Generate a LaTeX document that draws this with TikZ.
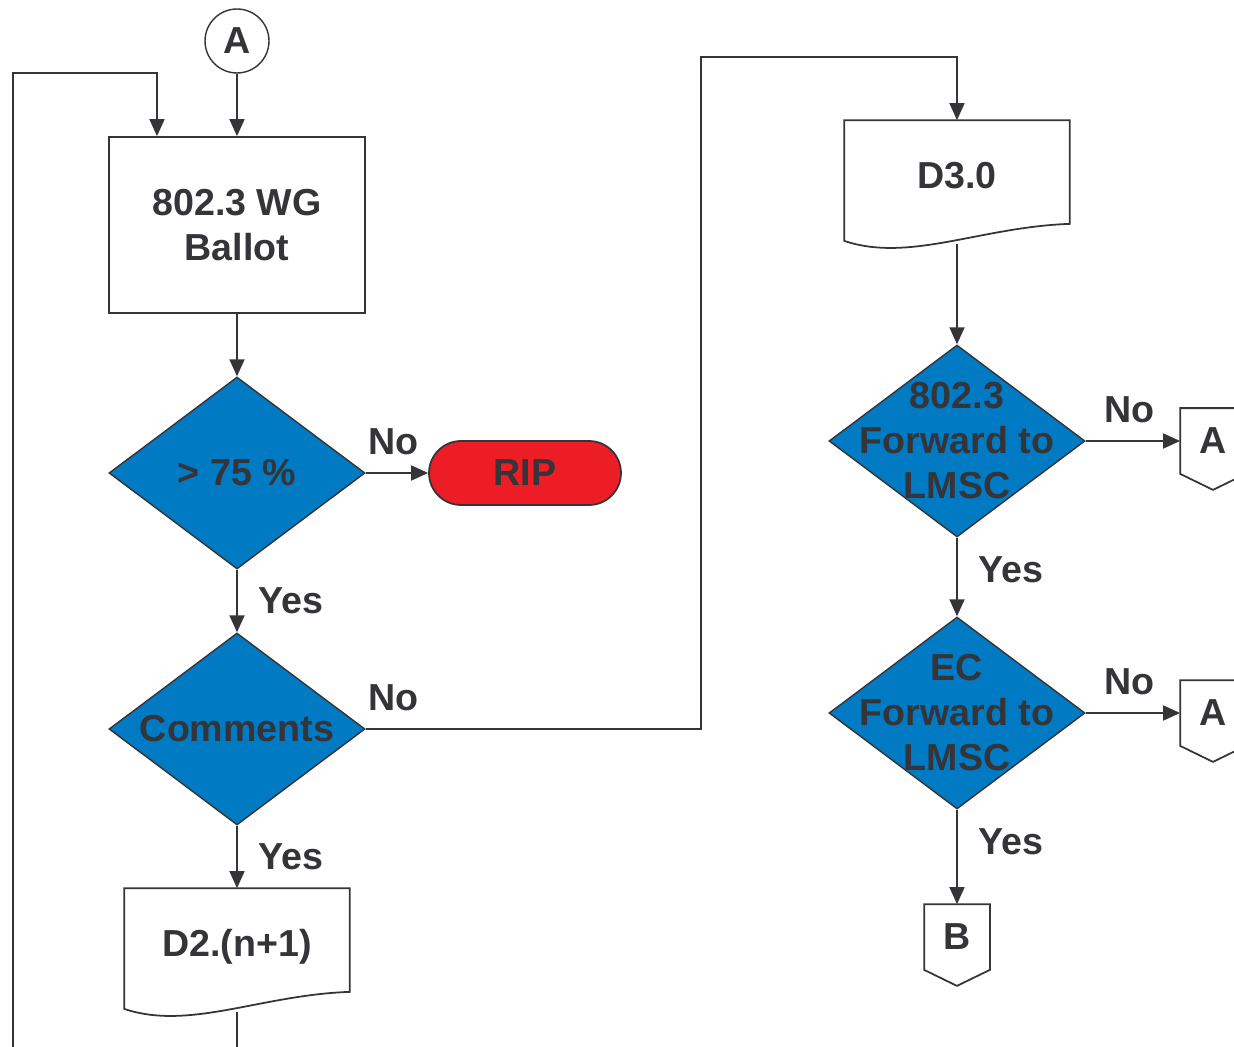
\documentclass[tikz,border=0pt]{standalone}
\usepackage{fontspec}
\setmainfont{Liberation Sans}
\usetikzlibrary{shapes.geometric, arrows.meta}
\definecolor{ink}{RGB}{52,52,57}
\definecolor{decblue}{RGB}{0,122,194}
\definecolor{ripred}{RGB}{236,29,36}

\begin{document}
\begin{tikzpicture}[x=0.02cm, y=-0.02cm, color=ink, line width=1pt,
    >={Triangle[length=0.34cm, width=0.3cm]},
    every node/.style={font=\fontsize{21.4}{25.6}\selectfont\bfseries},
    conn/.style={circle, draw, line width=0.8pt, minimum size=1.28cm, inner sep=0pt},
    process/.style={rectangle, draw, align=center, minimum width=5.12cm, minimum height=3.52cm},
    decision/.style={diamond, draw, line width=0.8pt, fill=decblue, minimum width=5.12cm, minimum height=3.84cm, inner sep=0pt},
    dtext/.style={align=center, inner sep=0pt},
    terminal/.style={rectangle, rounded corners=0.64cm, draw, fill=ripred, minimum width=3.84cm, minimum height=1.28cm},
    doc/.style={rectangle, minimum width=4.48cm, minimum height=2.44cm, text height=0.5cm, text depth=0.24cm},
    offpage/.style={rectangle, minimum size=1.28cm, inner sep=0pt},
    lbl/.style={inner sep=0pt}]

  \useasboundingbox (0,0) rectangle (1234,1047);

  \node[conn] (a) at (237,41) {A};
  \node[process] (ballot) at (237,225) {802.3 WG\\Ballot};
  \node[decision, label={[dtext, name=test-text]center:{> 75 \%}}] (test) at (237,473) {};
  \node[terminal] (rip) at (525,473) {RIP};
  \node[decision, label={[dtext, name=comments-text]center:{Comments}}] (comments) at (237,729) {};
  \node[doc] (d2) at (237,950) {D2.(n+1)};

  \node[doc] (d3) at (957,182) {D3.0};
  \node[decision, label={[dtext, name=fwd-text]center:{802.3\\Forward to\\LMSC}}] (fwd) at (957,441) {};
  \node[decision, label={[dtext, name=ec-text]center:{EC\\Forward to\\LMSC}}] (ec) at (957,713) {};
  \node[offpage] (oa1) at (1213,441) {A};
  \node[offpage] (oa2) at (1213,713) {A};
  \node[offpage] (ob) at (957,937) {B};

  \coordinate (loop) at (157,73);
  \coordinate (in) at (13,1047);
  \coordinate (out) at (237,1047);
  \coordinate (turn) at (701,57);

  \draw ([yshift=0.06cm]d2.south west) -- (d2.north west) -- (d2.north east) -- ([yshift=0.4cm]d2.south east)
    .. controls +(-89,3) and +(65,22) .. ([yshift=0.06cm]d2.south west) -- cycle;
  \draw ([yshift=0.06cm]d3.south west) -- (d3.north west) -- (d3.north east) -- ([yshift=0.4cm]d3.south east)
    .. controls +(-89,3) and +(65,22) .. ([yshift=0.06cm]d3.south west) -- cycle;
  \draw (oa1.south west) -- (oa1.north west) -- (oa1.north east) -- (oa1.south east) -- ([yshift=-0.32cm]oa1.south) -- cycle;
  \draw (oa2.south west) -- (oa2.north west) -- (oa2.north east) -- (oa2.south east) -- ([yshift=-0.32cm]oa2.south) -- cycle;
  \draw (ob.south west) -- (ob.north west) -- (ob.north east) -- (ob.south east) -- ([yshift=-0.32cm]ob.south) -- cycle;

  \draw [->] (a) -- (ballot);
  \draw [->] (in) |- (loop) -- (loop |- ballot.north);
  \draw [->] (ballot) -- (test);
  \draw [->] (test) -- (rip) node [lbl, pos=0.44, above=0.35cm] {No};
  \draw [->] (test) -- (comments) node [lbl, pos=0.5, right=0.42cm] {Yes};
  \draw [->] (comments) -| node [lbl, pos=0.042, above=0.35cm] {No} (turn) -| (d3);
  \draw [->] (comments) -- (d2) node [lbl, pos=0.5, right=0.42cm] {Yes};
  \draw (d2.south) -- (out);

  \draw [->] (d3) -- (fwd);
  \draw [->] (fwd) -- (oa1) node [lbl, pos=0.46, above=0.35cm] {No};
  \draw [->] (fwd) -- (ec) node [lbl, pos=0.41, right=0.42cm] {Yes};
  \draw [->] (ec) -- (oa2) node [lbl, pos=0.46, above=0.35cm] {No};
  \draw [->] (ec) -- (ob) node [lbl, pos=0.34, right=0.42cm] {Yes};
\end{tikzpicture}
\end{document}
